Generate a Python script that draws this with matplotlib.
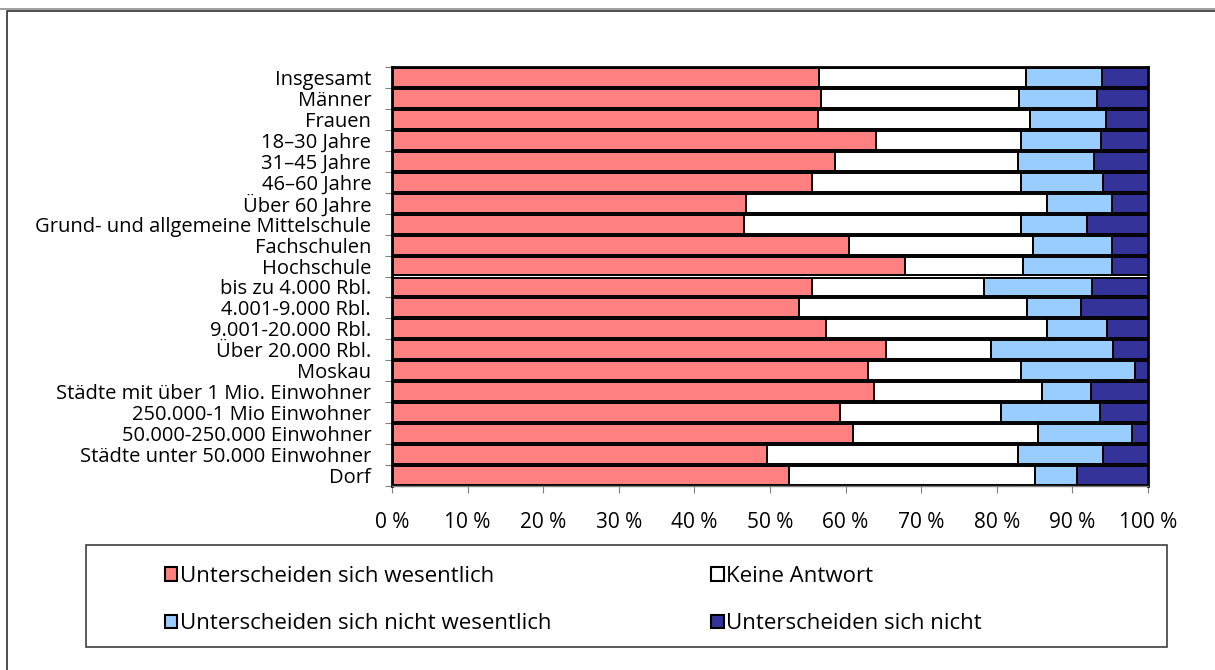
import matplotlib
matplotlib.use("Agg")
import matplotlib.pyplot as plt
from matplotlib.patches import Patch, Rectangle
from matplotlib.lines import Line2D

plt.rcParams['font.family'] = ['Open Sans', 'DejaVu Sans']

categories = [
    'Insgesamt', 'Männer', 'Frauen', '18–30 Jahre', '31–45 Jahre', '46–60 Jahre',
    'Über 60 Jahre', 'Grund- und allgemeine Mittelschule', 'Fachschulen', 'Hochschule',
    'bis zu 4.000 Rbl.', '4.001-9.000 Rbl.', '9.001-20.000 Rbl.', 'Über 20.000 Rbl.',
    'Moskau', 'Städte mit über 1 Mio. Einwohner', '250.000-1 Mio Einwohner',
    '50.000-250.000 Einwohner', 'Städte unter 50.000 Einwohner', 'Dorf',
]

# percentages per category
wesentlich = [56.5, 56.8, 56.4, 64.0, 58.6, 55.5, 46.8, 46.6, 60.5, 67.8,
              55.6, 53.9, 57.4, 65.3, 62.9, 63.8, 59.3, 61.0, 49.6, 52.5]
keine_antwort = [27.4, 26.2, 28.0, 19.2, 24.2, 27.7, 39.8, 36.6, 24.3, 15.6,
                 22.7, 30.1, 29.3, 13.9, 20.3, 22.2, 21.2, 24.4, 33.2, 32.5]
nicht_wesentlich = [10.0, 10.2, 10.0, 10.6, 10.0, 10.8, 8.7, 8.7, 10.5, 11.8,
                    14.3, 7.2, 7.9, 16.2, 15.1, 6.5, 13.1, 12.5, 11.3, 5.6]
nicht = [6.1, 6.8, 5.6, 6.2, 7.2, 6.0, 4.7, 8.1, 4.7, 4.8,
         7.4, 8.8, 5.4, 4.6, 1.7, 7.5, 6.4, 2.1, 5.9, 9.4]

series = [
    ('Unterscheiden sich wesentlich', wesentlich, '#FF8080'),
    ('Keine Antwort', keine_antwort, '#FFFFFF'),
    ('Unterscheiden sich nicht wesentlich', nicht_wesentlich, '#99CCFF'),
    ('Unterscheiden sich nicht', nicht, '#333399'),
]

W, H = 1215, 670
fig = plt.figure(figsize=(W / 100, H / 100), dpi=100)
ax = fig.add_axes([392 / W, 1 - 486 / H, 756 / W, 419 / H])

y = list(range(len(categories)))
left = [0.0] * len(categories)
for name, vals, color in series:
    ax.barh(y, vals, left=left, height=0.9, color=color,
            edgecolor='black', linewidth=1.4, label=name)
    left = [l + v for l, v in zip(left, vals)]

ax.set_xlim(0, 100)
ax.set_ylim(len(categories) - 0.5, -0.5)

ax.set_xticks(range(0, 101, 10))
ax.set_xticklabels([f'{v} %' for v in range(0, 101, 10)], fontsize=15)
ax.tick_params(axis='x', direction='out', length=5, color='#808080', pad=14)

ax.set_yticks([i - 0.5 for i in range(len(categories) + 1)])
ax.set_yticklabels([])
ax.set_yticks(y, minor=True)
ax.set_yticklabels(categories, minor=True, fontsize=14.5)
ax.tick_params(axis='y', which='major', direction='out', length=5, color='#808080')
ax.tick_params(axis='y', which='minor', length=0, pad=15)

for side in ['top', 'right', 'left']:
    ax.spines[side].set_linewidth(2)
    ax.spines[side].set_color('black')
ax.spines['bottom'].set_color('#808080')
ax.spines['bottom'].set_linewidth(1)

# outer frame and top line
fig.add_artist(Line2D([0, 1], [1 - 9 / H, 1 - 9 / H], color='#909090', lw=1.2))
fig.add_artist(Line2D([7 / W, 7 / W, 1], [0, 1 - 11 / H, 1 - 11 / H], color='#404040', lw=1.3))

# legend box
fig.add_artist(Rectangle((86 / W, 1 - 647 / H), 1081 / W, 102 / H, transform=fig.transFigure,
                         fill=False, edgecolor='#404040', lw=1.2))
order = [0, 2, 1, 3]
handles = [Patch(facecolor=series[i][2], edgecolor='black', linewidth=1.5) for i in order]
labels = [series[i][0] for i in order]
fig.legend(handles, labels, loc='center left', bbox_to_anchor=(165 / W, 1 - 600 / H),
           ncol=2, frameon=False, fontsize=16, borderpad=0, borderaxespad=0,
           handlelength=0.55, handleheight=0.55, handletextpad=0.12,
           labelspacing=1.2, columnspacing=7.2)

fig.savefig('out.png', dpi=100)
